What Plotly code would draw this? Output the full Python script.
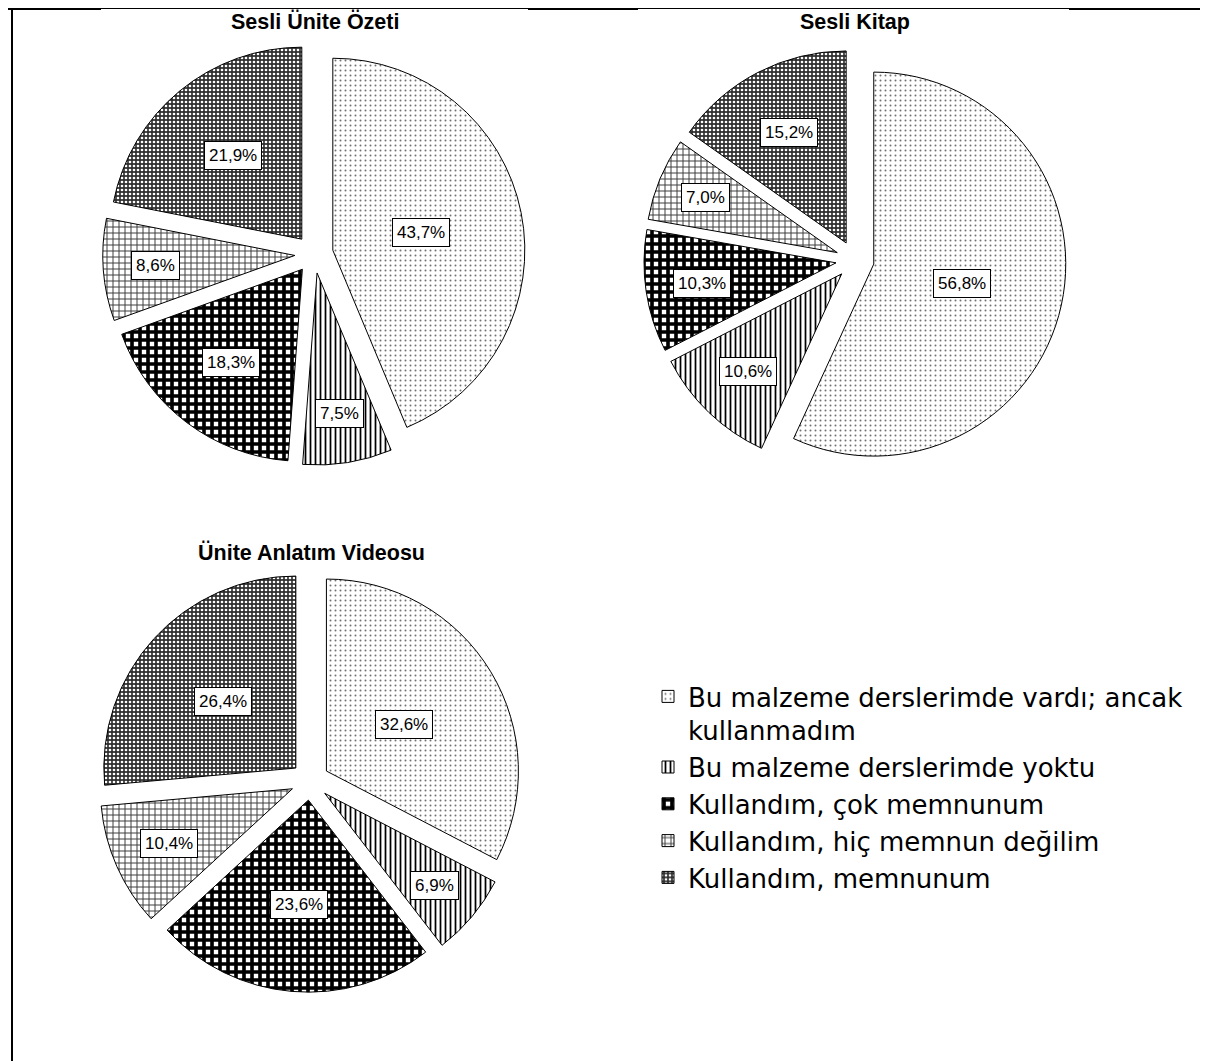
import math
import plotly.graph_objects as go

# ---------------- data ----------------
categories = [
    "Bu malzeme derslerimde vardı; ancak<br>kullanmadım",
    "Bu malzeme derslerimde yoktu",
    "Kullandım, çok memnunum",
    "Kullandım, hiç memnun değilim",
    "Kullandım, memnunum",
]
titles = ["Sesli Ünite Özeti", "Sesli Kitap", "Ünite Anlatım Videosu"]
sesli_unite_ozeti = [43.7, 7.5, 18.3, 8.6, 21.9]
sesli_kitap = [56.8, 10.6, 10.3, 7.0, 15.2]
unite_anlatim_videosu = [32.6, 6.9, 23.6, 10.4, 26.4]

# ---------------- styling ----------------
# the page body has an 8px margin, so the figure is drawn 8px smaller and
# all reference pixel positions are shifted by OFF
OFF = 8
W, H = 1208 - OFF, 1061 - OFF
PULL = 0.1
FONT = "Arial, 'Liberation Sans', sans-serif"
LEGEND_FONT = "'DejaVu Sans', Verdana, sans-serif"

pattern = dict(
    shape=[".", "|", "+", "+", "."],
    fgcolor=["#707070", "#000000", "#000000", "#3a3a3a", "#ffffff"],
    bgcolor=["#ffffff", "#ffffff", "#ffffff", "#ffffff", "#303030"],
    size=[5, 5, 8, 6, 4],
    solidity=[0.12, 0.35, 0.7, 0.3, 0.35],
    fillmode="replace",
)


def px(x, y):
    """reference pixel -> paper coords"""
    return (x - OFF) / W, 1 - (y - OFF) / H


def domain_from_px(cx, cy, half):
    x0, y1 = px(cx - half, cy - half)
    x1, y0 = px(cx + half, cy + half)
    return dict(x=[x0, x1], y=[y0, y1])


R_PX = 192
HALF = R_PX * (1 + PULL)
centres = [(314, 254), (855, 260), (310, 781)]
domains = [domain_from_px(cx, cy, HALF) for cx, cy in centres]
title_pos = [(315, 22), (855, 22), (311, 552)]

series = [sesli_unite_ozeti, sesli_kitap, unite_anlatim_videosu]

fig = go.Figure()
annotations = []
for i, (vals, dom) in enumerate(zip(series, domains)):
    fig.add_trace(go.Pie(
        labels=categories,
        values=vals,
        sort=False,
        direction="clockwise",
        rotation=0,
        pull=PULL,
        domain=dom,
        textinfo="none",
        hoverinfo="label+percent",
        marker=dict(colors=["#ffffff"] * 5, pattern=pattern,
                    line=dict(color="#000000", width=1)),
        showlegend=(i == 0),
        name=titles[i],
    ))
    # value labels in white boxes, positioned from the data (slice bisectors)
    cx_px = (dom["x"][0] + dom["x"][1]) / 2 * W
    cy_px = (1 - (dom["y"][0] + dom["y"][1]) / 2) * H
    r = min((dom["x"][1] - dom["x"][0]) * W, (dom["y"][1] - dom["y"][0]) * H) / 2 / (1 + PULL)
    total = sum(vals)
    cum = 0.0
    for v in vals:
        share = v / total
        a = (cum + share / 2) * 2 * math.pi
        cum += share
        f = max(0.47, min(0.76, 0.83 - 1.2 * share))
        d = (PULL + f) * r
        xp = cx_px + d * math.sin(a)
        yp = cy_px - d * math.cos(a)
        annotations.append(dict(
            x=xp / W, y=1 - yp / H, xref="paper", yref="paper",
            xanchor="center", yanchor="middle",
            text=f"{v:.1f}".replace(".", ",") + "%",
            showarrow=False, bgcolor="#ffffff", bordercolor="#000000",
            borderwidth=1, borderpad=4,
            font=dict(family=FONT, size=17, color="#000000"),
        ))

for t, (tx, ty) in zip(titles, title_pos):
    ax, ay = px(tx, ty)
    annotations.append(dict(
        x=ax, y=ay, xref="paper", yref="paper",
        text=f"<b>{t}</b>", showarrow=False,
        font=dict(family=FONT, size=21.5, color="#000000"),
        xanchor="center", yanchor="middle",
    ))


# frame lines
def hline(x0, x1, y, w):
    a0, b = px(x0, y)
    a1, _ = px(x1, y)
    return dict(type="line", xref="paper", yref="paper",
                x0=a0, x1=a1, y0=b, y1=b,
                line=dict(color="#000000", width=w))


vx, vy = px(12, 9)
shapes = [
    hline(OFF, 1208, 8.5, 1),
    hline(OFF, 101, 9, 2),
    hline(528, 638, 9, 2),
    hline(1069, 1208, 9, 2),
    dict(type="line", xref="paper", yref="paper",
         x0=vx, x1=vx, y0=vy, y1=0,
         line=dict(color="#000000", width=2)),
]

lx, ly = px(648, 673)
fig.update_layout(
    width=W, height=H,
    margin=dict(l=0, r=0, t=0, b=0),
    paper_bgcolor="#ffffff",
    plot_bgcolor="#ffffff",
    annotations=annotations,
    shapes=shapes,
    legend=dict(
        x=lx, y=ly, xanchor="left", yanchor="top",
        font=dict(family=LEGEND_FONT, size=26, color="#000000"),
        valign="top", bgcolor="rgba(0,0,0,0)", itemwidth=30,
        tracegroupgap=0,
    ),
    font=dict(family=FONT),
)

fig.write_html("out.html")
